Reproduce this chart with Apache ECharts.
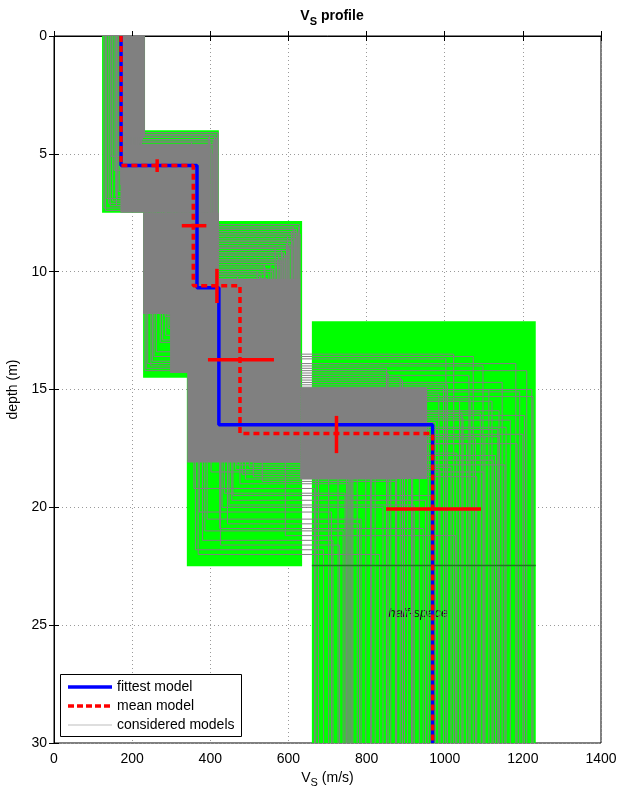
<!DOCTYPE html>
<html>
<head>
<meta charset="utf-8">
<title>Vs profile</title>
<script src="https://cdn.jsdelivr.net/npm/echarts@6/dist/echarts.min.js"></script>
<style>
  html, body { margin: 0; padding: 0; background: #fff; }
  #chart { width: 629px; height: 788px; }
</style>
</head>
<body>
<div id="chart"></div>
<script>
// ---- axes ----
const vsTicks = [0, 200, 400, 600, 800, 1000, 1200, 1400];
const depthTicks = [0, 5, 10, 15, 20, 25, 30];

// ---- parameter search ranges per layer: Vs range x depth range ----
const boxVsMin  = [123, 228, 340, 660];
const boxVsMax  = [233, 422, 635, 1233];
const boxTop    = [0, 4.0, 7.85, 12.1];
const boxBottom = [7.5, 14.5, 22.5, 30];

// ---- regions densely covered by considered models ----
const denseVsMin  = [172, 170, 228, 297, 341, 630];
const denseVsMax  = [232, 400, 422, 422, 630, 955];
const denseTop    = [0, 4.6, 7.5, 11.8, 10.3, 14.9];
const denseBottom = [4.3, 7.5, 11.8, 14.3, 18.1, 18.8];

// ---- individual considered models (4 layers, 3 interfaces) ----
const consVs1 = [228,135,146,160,212,189,221,182,201,128,215,176,230,197,168,224,205,185,217,193,154,226,208,179,219,199,231,172,211,203,188,223,
                 225,214,207,195,218,183,229,170,210,200,190,222,175,216,162,206,180,227,194,150,213,186,140,198,
                 220,209,196,224,187,215,202,230,192,211,178,218,204,166,213,184,226,198,158,208,173,221,191,144,212,181,132,217,194,227];
const consZ1  = [4.2,6.9,5.1,7.2,4.5,5.9,6.3,4.9,5.2,7.3,6.1,5.6,4.1,6.6,5.4,4.7,6.8,5.0,4.4,6.2,5.7,4.3,5.5,6.4,4.6,5.3,4.2,6.0,5.8,4.8,6.5,5.0,
                 4.4,4.9,5.1,5.6,4.5,6.0,4.3,6.3,5.4,5.7,6.1,4.6,6.7,5.2,6.9,5.5,6.2,4.2,5.9,7.0,5.0,6.4,7.1,5.3,
                 4.5,5.0,5.8,4.4,6.0,4.7,5.4,4.1,5.9,5.1,6.3,4.8,5.2,6.6,4.9,6.2,4.4,5.6,6.8,5.3,6.4,4.6,6.0,7.2,5.1,6.3,7.4,4.8,5.7,4.3];
const consVs2 = [398,240,305,262,352,330,402,288,375,233,415,318,420,366,342,388,272,357,409,335,297,395,380,324,411,362,418,310,372,348,284,405,
                 410,390,370,345,400,325,416,300,384,360,338,404,292,392,278,368,315,412,340,256,386,328,248,354,
                 407,378,350,413,332,396,364,419,343,382,320,403,374,303,390,336,414,356,286,377,312,408,341,252,383,322,236,398,352,411];
const consZ2  = [8.1,13.9,12.6,13.4,9.2,10.2,11.0,11.8,9.8,14.2,10.5,12.1,8.0,10.9,11.4,9.5,13.0,10.0,8.6,11.2,12.3,8.8,9.9,11.6,9.0,10.4,8.3,12.8,10.7,9.4,11.9,9.6,
                 8.4,8.9,9.3,9.7,8.2,10.1,8.7,11.3,9.1,10.3,10.8,8.5,12.4,9.0,12.9,9.7,11.1,8.2,10.6,13.6,9.2,11.5,14.0,10.2,
                 8.3,9.4,10.0,8.6,10.9,8.8,9.6,8.1,10.4,9.3,11.7,8.9,9.9,12.2,9.1,11.0,8.4,10.1,12.7,9.5,11.8,8.7,10.7,13.8,9.7,11.4,14.1,9.0,10.5,8.5];
const consVs3 = [612,358,372,426,585,470,498,444,540,369,604,533,628,497,455,572,592,520,618,486,402,595,560,468,625,548,608,436,512,578,424,590,
                 630,600,575,555,620,530,610,510,582,545,505,598,465,566,448,538,490,615,518,392,590,476,380,526,
                 622,587,560,616,524,604,571,626,537,593,500,611,565,458,596,513,620,550,430,580,482,608,528,386,585,494,362,602,542,624];
const consZ3  = [13.5,19.2,20.2,21.6,13.7,17.4,15.8,20.7,16.3,22.0,14.1,18.9,14.6,17.9,19.7,15.2,21.2,16.0,14.4,17.1,18.5,15.5,16.7,18.2,13.9,16.9,15.0,19.4,17.6,15.7,20.9,16.4,
                 15.3,16.1,17.3,16.6,15.9,18.0,17.0,18.7,15.4,16.2,17.7,14.8,18.4,16.5,19.9,17.2,18.8,14.3,17.5,20.5,15.6,19.0,21.4,16.8,
                 14.2,15.1,16.3,14.7,17.8,15.0,16.0,13.6,17.3,15.5,18.3,14.9,16.4,19.5,15.8,18.1,14.5,16.9,20.0,15.9,18.6,15.2,17.6,21.0,16.1,18.0,21.8,15.4,17.0,14.0];
const consVs4 = [1023,667,710,731,1003,749,762,782,810,833,851,874,892,918,951,985,1028,1044,1062,1079,1100,1121,1136,1154,1182,1200,1223,745,755,915,945,875,
                 1226,1204,1185,1157,1139,1124,1103,1082,1065,1047,1031,1007,988,958,922,897,877,855,813,786,765,752,714,670,
                 1210,1192,1168,1147,1130,1113,1091,1073,1056,1038,1016,997,976,965,935,905,886,862,842,822,798,776,758,740,727,703,690,677,1140,1098];

// ---- fittest and mean models ----
const fittestVs    = [171.5, 366, 422, 969];
const fittestDepth = [5.5, 10.68, 16.5];
const meanVs       = [171.5, 356.5, 476, 969];
const meanDepth    = [5.5, 10.6, 16.87];

// ---- uncertainty bars of the mean model ----
const vsErrDepth   = [8.05, 13.74, 20.07];
const vsErrLow     = [327, 394, 850];
const vsErrHigh    = [390, 563, 1093];
const zErrVs       = [264, 417, 723];
const zErrLow      = [5.23, 9.88, 16.12];
const zErrHigh     = [5.77, 11.33, 17.7];

// ---- annotations ----
const halfSpaceLabel = { text: 'half-space', vs: 932, depth: 24.5 };
const maxInterfaceDepth = 22.47;
const legendNames = ['fittest model', 'mean model', 'considered models'];

const FONT = '"Liberation Sans", Arial, Helvetica, sans-serif';
const BLUE = '#0000ff', RED = '#ff0000', GREEN = '#00ff00', GRAY = '#808080';

// step profile from layer velocities and interface depths
function profile(vs, z) {
  const pts = [[vs[0], 0]];
  for (let i = 0; i < z.length; i++) {
    pts.push([vs[i], z[i]]);
    pts.push([vs[i + 1], z[i]]);
  }
  pts.push([vs[vs.length - 1], depthTicks[depthTicks.length - 1]]);
  return pts;
}

function rectSeries(name, mins, maxs, tops, bottoms, color, z) {
  const data = mins.map((v, i) => [v, maxs[i], tops[i], bottoms[i]]);
  return {
    type: 'custom', name: name, z: z, silent: true,
    encode: { x: [0, 1], y: [2, 3] },
    data: data,
    renderItem: function (params, api) {
      const p0 = api.coord([api.value(0), api.value(2)]);
      const p1 = api.coord([api.value(1), api.value(3)]);
      return {
        type: 'rect',
        shape: { x: p0[0], y: p0[1], width: p1[0] - p0[0], height: p1[1] - p0[1] },
        style: { fill: color }
      };
    }
  };
}

function segmentSeries(name, segs, color, width, z) {
  return {
    type: 'custom', name: name, z: z, silent: true,
    encode: { x: [0, 2], y: [1, 3] },
    data: segs,
    renderItem: function (params, api) {
      const a = api.coord([api.value(0), api.value(1)]);
      const b = api.coord([api.value(2), api.value(3)]);
      return {
        type: 'line',
        shape: { x1: a[0], y1: a[1], x2: b[0], y2: b[1] },
        style: { stroke: color, lineWidth: width }
      };
    }
  };
}

const series = [];

// search-range boxes
series.push(rectSeries('ranges', boxVsMin, boxVsMax, boxTop, boxBottom, GREEN, 1));

// half-space label (under the model lines)
series.push({
  type: 'custom', name: 'label', z: 2, silent: true,
  data: [[halfSpaceLabel.vs, halfSpaceLabel.depth]],
  renderItem: function (params, api) {
    const p = api.coord([api.value(0), api.value(1)]);
    return {
      type: 'text', x: p[0], y: p[1],
      style: { text: halfSpaceLabel.text, font: 'italic 13px ' + FONT, fill: '#111', align: 'center', verticalAlign: 'middle' }
    };
  }
});

// dense part of the considered-model cloud
series.push(rectSeries('cloud', denseVsMin, denseVsMax, denseTop, denseBottom, GRAY, 3));

// individual considered models
for (let i = 0; i < consVs1.length; i++) {
  series.push({
    type: 'line', name: legendNames[2], z: 4, silent: true,
    symbol: 'none', animation: false,
    lineStyle: { color: GRAY, width: 1 },
    data: profile([consVs1[i], consVs2[i], consVs3[i], consVs4[i]], [consZ1[i], consZ2[i], consZ3[i]])
  });
}

// deepest interface bound across the half-space box
series.push(segmentSeries('bound', [[boxVsMin[3], maxInterfaceDepth, boxVsMax[3], maxInterfaceDepth]], '#1f7a1f', 1.5, 5));

// fittest model
series.push({
  type: 'line', name: legendNames[0], z: 6, symbol: 'none', silent: true,
  lineStyle: { color: BLUE, width: 3.5 },
  data: profile(fittestVs, fittestDepth)
});

// mean model
series.push({
  type: 'line', name: legendNames[1], z: 7, symbol: 'none', silent: true,
  lineStyle: { color: RED, width: 3.5, type: [6, 4] },
  data: profile(meanVs, meanDepth)
});

// uncertainty bars
const errSegs = [];
for (let i = 0; i < vsErrDepth.length; i++) errSegs.push([vsErrLow[i], vsErrDepth[i], vsErrHigh[i], vsErrDepth[i]]);
for (let i = 0; i < zErrVs.length; i++) errSegs.push([zErrVs[i], zErrLow[i], zErrVs[i], zErrHigh[i]]);
series.push(segmentSeries('errors', errSegs, RED, 3.5, 8));

const axisLabelStyle = { color: '#000', fontSize: 14, fontFamily: FONT, formatter: v => String(v) };
const tickStyle = { color: '#000', width: 1 };
const gridLine = { show: true, lineStyle: { color: '#9a9a9a', width: 1, type: [1, 3] } };

// legend box, drawn in the lower-left corner of the plot
const legendX = 60, legendY = 674, legendW = 181, legendH = 62;
const legendStyles = [
  { stroke: BLUE, lineWidth: 3.5 },
  { stroke: RED, lineWidth: 3.5, lineDash: [6, 3] },
  { stroke: '#bdbdbd', lineWidth: 1 }
];
const legendGraphic = [{
  type: 'rect', z: 100,
  shape: { x: legendX + 0.5, y: legendY + 0.5, width: legendW, height: legendH },
  style: { fill: '#fff', stroke: '#000', lineWidth: 1 }
}];
legendNames.forEach((name, i) => {
  const y = legendY + 13 + i * 19;
  legendGraphic.push({
    type: 'line', z: 101,
    shape: { x1: legendX + 8, y1: y, x2: legendX + 52, y2: y },
    style: legendStyles[i]
  });
  legendGraphic.push({
    type: 'text', z: 101, x: legendX + 57, y: y,
    style: { text: name, font: '14px ' + FONT, fill: '#000', verticalAlign: 'middle' }
  });
});

const option = {
  animation: false,
  backgroundColor: '#fff',
  title: {
    text: '{v|V}{s|S}{v| profile}',
    left: 327, top: 4, textAlign: 'center',
    textStyle: {
      rich: {
        v: { fontSize: 14, fontWeight: 'bold', fontFamily: FONT, color: '#000', verticalAlign: 'top', lineHeight: 16 },
        s: { fontSize: 11, fontWeight: 'bold', fontFamily: FONT, color: '#000', verticalAlign: 'top', lineHeight: 12, padding: [7, 0, 0, 0] }
      }
    }
  },
  grid: {
    left: 54, top: 36, width: 547, height: 707,
    outerBoundsMode: 'none', containLabel: false,
    show: true, borderColor: '#000', borderWidth: 1, backgroundColor: 'transparent'
  },
  xAxis: [
    {
      type: 'value', min: vsTicks[0], max: vsTicks[vsTicks.length - 1], interval: 200, position: 'bottom',
      axisLine: { show: true, lineStyle: tickStyle },
      axisTick: { show: true, inside: true, length: 5, lineStyle: tickStyle },
      axisLabel: Object.assign({ margin: 9 }, axisLabelStyle),
      splitLine: gridLine,
      name: '{v|V}{s|S}{v| (m/s)}',
      nameLocation: 'middle', nameGap: 27,
      nameTextStyle: {
        rich: {
          v: { fontSize: 14, fontFamily: FONT, color: '#000', verticalAlign: 'top', lineHeight: 16 },
          s: { fontSize: 11, fontFamily: FONT, color: '#000', verticalAlign: 'top', lineHeight: 12, padding: [7, 0, 0, 0] }
        }
      }
    },
    {
      type: 'value', min: vsTicks[0], max: vsTicks[vsTicks.length - 1], interval: 200, position: 'top',
      axisLine: { show: true, lineStyle: tickStyle },
      axisTick: { show: true, inside: true, length: 5, lineStyle: tickStyle },
      axisLabel: { show: false }, splitLine: { show: false }
    }
  ],
  yAxis: [
    {
      type: 'value', inverse: true, min: depthTicks[0], max: depthTicks[depthTicks.length - 1], interval: 5, position: 'left',
      axisLine: { show: true, lineStyle: tickStyle },
      axisTick: { show: true, inside: true, length: 5, lineStyle: tickStyle },
      axisLabel: Object.assign({ margin: 7 }, axisLabelStyle),
      splitLine: gridLine,
      name: 'depth (m)', nameLocation: 'middle', nameGap: 26, nameRotate: 90,
      nameTextStyle: { fontSize: 14, fontFamily: FONT, color: '#000' }
    },
    {
      type: 'value', inverse: true, min: depthTicks[0], max: depthTicks[depthTicks.length - 1], interval: 5, position: 'right',
      axisLine: { show: true, lineStyle: tickStyle },
      axisTick: { show: true, inside: true, length: 5, lineStyle: tickStyle },
      axisLabel: { show: false }, splitLine: { show: false }
    }
  ],
  graphic: legendGraphic,
  series: series
};

const chart = echarts.init(document.getElementById('chart'), null, { renderer: 'canvas' });
chart.setOption(option);
</script>
</body>
</html>
